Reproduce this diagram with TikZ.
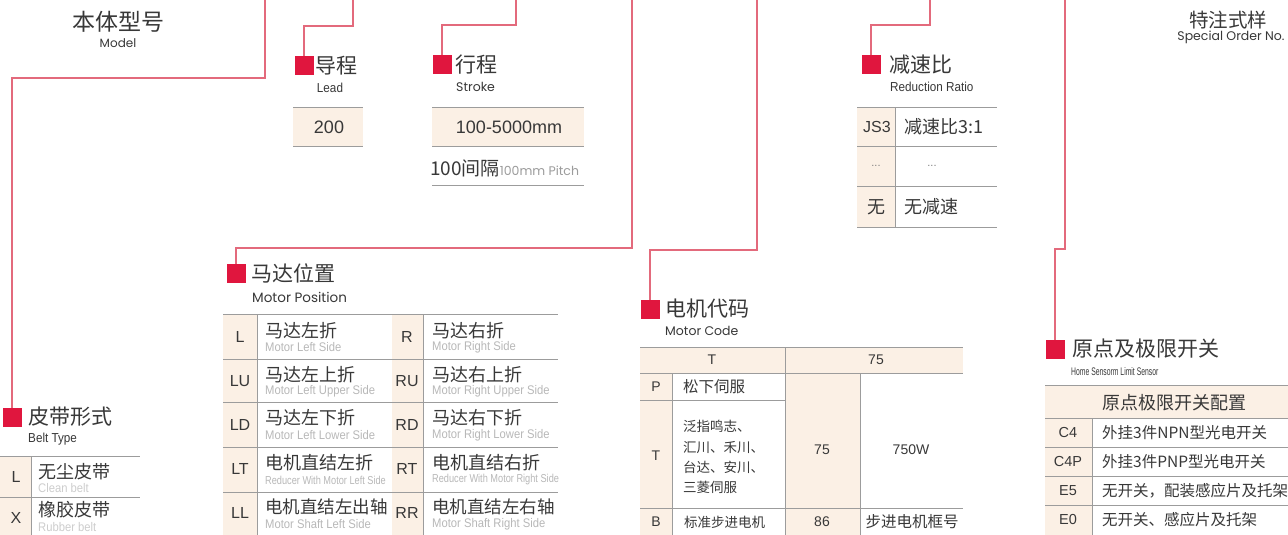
\documentclass[tikz,border=0pt]{standalone}
\usepackage{fontspec}
\setmainfont{Noto Sans CJK SC}
\newfontfamily\lat{Liberation Sans}
\newfontfamily\geo{Poppins}
\newfontfamily\cond[FakeStretch=0.8]{Liberation Sans}
\newfontfamily\semicond[FakeStretch=0.9]{Liberation Sans}
\newfontfamily\xcond[FakeStretch=0.62]{Liberation Sans}
\definecolor{lnred}{HTML}{E36A7C}
\definecolor{mkred}{HTML}{E0163E}
\definecolor{beige}{HTML}{FBF0E5}
\definecolor{gridc}{HTML}{9C9C9C}
\definecolor{txt}{HTML}{383838}
\definecolor{subg}{HTML}{B8B8B8}
\tikzset{
  conn/.style={draw=lnred, line width=1.2pt},
  marker/.style={fill=mkred, minimum size=19pt, inner sep=0pt, outer sep=0pt},
  title/.style={anchor=west, inner sep=0pt, text=txt, font=\fontsize{21}{21}\selectfont},
  geosub/.style={anchor=west, inner sep=0pt, text=txt, font=\geo\fontsize{12.5}{12.5}\selectfont},
  condsub/.style={anchor=west, inner sep=0pt, text=txt, font=\semicond\fontsize{13}{13}\selectfont},
  gl/.style={draw=gridc, line width=0.9pt},
  shade/.style={fill=beige},
  code/.style={inner sep=0pt, text=txt, font=\lat\fontsize{16}{16}\selectfont},
  cn/.style={anchor=west, inner sep=0pt, text=txt, font=\fontsize{18}{18}\selectfont},
  cnm/.style={anchor=west, inner sep=0pt, text=txt, font=\fontsize{15.5}{15.5}\selectfont},
  tiny/.style={anchor=west, inner sep=0pt, text=subg, font=\semicond\fontsize{12.5}{12.5}\selectfont}
}
\begin{document}
\begin{tikzpicture}[x=1pt,y=-1pt]
\useasboundingbox (0,0) rectangle (1288,535);
\clip (0,0) rectangle (1288,535);
\fill[white] (0,0) rectangle (1288,535);

% ---------- header texts ----------
\node[inner sep=0pt, text=txt, font=\fontsize{23}{23}\selectfont] (model) at (118,22) {本体型号};
\node[inner sep=0pt, text=txt, font=\geo\fontsize{12}{12}\selectfont] (models) at (118,43) {Model};
\node[inner sep=0pt, text=txt, font=\fontsize{19.5}{19.5}\selectfont] (spec) at (1228,20) {特注式样};
\node[inner sep=0pt, text=txt, font=\geo\fontsize{12.5}{12.5}\selectfont] (specs) at (1231,37) {Special Order No.};

% ---------- markers ----------
\node[marker] (mkbelt) at (12,417) {};
\node[marker] (mklead) at (304,66) {};
\node[marker] (mkstroke) at (442,65) {};
\node[marker] (mkpos) at (236,273) {};
\node[marker] (mkcode) at (650,309) {};
\node[marker] (mkred) at (871,65) {};
\node[marker] (mkhome) at (1055,349) {};

% ---------- connector tops ----------
\coordinate (tmodel) at (265,-2);
\coordinate (tlead) at (353,-2);
\coordinate (tstroke) at (516,-2);
\coordinate (tpos) at (632,-2);
\coordinate (tcode) at (757,-2);
\coordinate (tred) at (930,-2);
\coordinate (thome) at (1065,-2);

\draw[conn] (tmodel) -- ++(0,80) -| (mkbelt.north);
\draw[conn] (tlead) -- ++(0,28) -| (mklead.north);
\draw[conn] (tstroke) -- ++(0,27) -| (mkstroke.north);
\draw[conn] (tpos) -- ++(0,250) -| (mkpos.north);
\draw[conn] (tcode) -- ++(0,252) -| (mkcode.north);
\draw[conn] (tred) -- ++(0,27) -| (mkred.north);
\draw[conn] (thome) -- ++(0,251) -| (mkhome.north);

% ---------- titles ----------
\node[title] (tibelt) at (28,417) {皮带形式};
\node[condsub] (subbelt) at (28,439) {Belt Type};
\node[title] (tilead) at (315,66) {导程};
\node[condsub, anchor=center] (sublead) at (330,88) {Lead};
\node[title] (tistroke) at (455,65) {行程};
\node[geosub] (substroke) at (456,87) {Stroke};
\node[title] (tipos) at (251,273) {马达位置};
\node[geosub, font=\geo\fontsize{13.5}{13.5}\selectfont] (subpos) at (252,297) {Motor Position};
\node[title] (ticode) at (665,309) {电机代码};
\node[geosub] (subcode) at (665,331) {Motor Code};
\node[title] (tired) at (889,65) {减速比};
\node[condsub] (subred) at (890,87) {Reduction Ratio};
\node[title] (tihome) at (1072,349) {原点及极限开关};
\node[condsub, font=\xcond\fontsize{11}{11}\selectfont] (subhome) at (1071,372) {Home Sensorm Limit Sensor};

% ---------- lead table ----------
\fill[shade] (293,107) rectangle (363,146);
\draw[gl] (293,107) -- (363,107) (293,146) -- (363,146);
\node[code, font=\lat\fontsize{18}{18}\selectfont] (lead200) at (329,127) {200};

% ---------- stroke table ----------
\fill[shade] (432,107) rectangle (584,146);
\draw[gl] (432,107) -- (584,107) (432,146) -- (584,146) (432,185) -- (584,185);
\node[code, font=\lat\fontsize{18}{18}\selectfont] (strokev) at (509,127) {100-5000mm};
\node[anchor=west, inner sep=0pt, text=txt, font=\fontsize{19}{19}\selectfont] (pitch) at (430,168) {100间隔{\color{subg!85!black}\geo\fontsize{12.5}{12.5}\selectfont 100mm Pitch}};

% ---------- reduction table ----------
\fill[shade] (857,107) rectangle (895,227);
\draw[gl] (857,107) -- (997,107) (857,146) -- (997,146) (857,186) -- (997,186) (857,227) -- (997,227);
\draw[gl] (895,107) -- (895,227);
\node[code] (rjs) at (877,127) {JS3};
\node[cn] (rjsd) at (904,127) {减速比3:1};
\node[code, text=gray] (rdot) at (876,166) {\fontsize{11}{11}\selectfont ...};
\node[code, text=gray] (rdotd) at (932,166) {\fontsize{11}{11}\selectfont ...};
\node[code, font=\fontsize{18}{18}\selectfont] (rno) at (876,207) {无};
\node[cn] (rnod) at (904,207) {无减速};

% ---------- belt table ----------
\fill[shade] (0,456) rectangle (31,540);
\draw[gl] (0,456) -- (140,456) (0,497) -- (140,497);
\draw[gl] (31,456) -- (31,540);
\node[code] (bL) at (16,477) {L};
\node[cn] (bLd) at (38,472) {无尘皮带};
\node[tiny, text=subg!70] (bLs) at (38,488) {Clean belt};
\node[code] (bX) at (16,518) {X};
\node[cn] (bXd) at (38,510) {橡胶皮带};
\node[tiny, text=subg!70] (bXs) at (38,527) {Rubber belt};

% ---------- motor position table ----------
\fill[shade] (223,314) rectangle (257,540);
\fill[shade] (392,314) rectangle (423,540);
\draw[gl] (223,314) -- (558,314) (223,359) -- (558,359) (223,402) -- (558,402) (223,447) -- (558,447) (223,492) -- (558,492);
\draw[gl] (257,314) -- (257,540) (423,314) -- (423,540);
\node[code] (pL) at (240,337) {L};
\node[code] (pLU) at (240,381) {LU};
\node[code] (pLD) at (240,425) {LD};
\node[code] (pLT) at (240,469) {LT};
\node[code] (pLL) at (240,513) {LL};
\node[code] (pR) at (407,337) {R};
\node[code] (pRU) at (407,381) {RU};
\node[code] (pRD) at (407,425) {RD};
\node[code] (pRT) at (407,469) {RT};
\node[code] (pRR) at (407,513) {RR};
\node[cn] (pLa) at (265,331) {马达左折};
\node[tiny] (pLb) at (265,347) {Motor Left Side};
\node[cn] (pLUa) at (265,375) {马达左上折};
\node[tiny] (pLUb) at (265,391) {Motor Left Upper Side};
\node[cn] (pLDa) at (265,418) {马达左下折};
\node[tiny] (pLDb) at (265,435) {Motor Left Lower Side};
\node[cn] (pLTa) at (265,463) {电机直结左折};
\node[tiny, font=\cond\fontsize{11.5}{11.5}\selectfont] (pLTb) at (265,480) {Reducer With Motor Left Side};
\node[cn, font=\fontsize{17.5}{17.5}\selectfont] (pLLa) at (265,507) {电机直结左出轴};
\node[tiny] (pLLb) at (265,524) {Motor Shaft Left Side};
\node[cn] (pRa) at (432,331) {马达右折};
\node[tiny] (pRb) at (432,347) {Motor Right Side};
\node[cn] (pRUa) at (432,375) {马达右上折};
\node[tiny] (pRUb) at (432,391) {Motor Right Upper Side};
\node[cn] (pRDa) at (432,418) {马达右下折};
\node[tiny] (pRDb) at (432,435) {Motor Right Lower Side};
\node[cn] (pRTa) at (432,463) {电机直结右折};
\node[tiny, font=\cond\fontsize{11.5}{11.5}\selectfont] (pRTb) at (432,480) {Reducer With Motor Right Side};
\node[cn, font=\fontsize{17.5}{17.5}\selectfont] (pRRa) at (432,507) {电机直结左右轴};
\node[tiny] (pRRb) at (432,524) {Motor Shaft Right Side};

% ---------- motor code table ----------
\fill[shade] (640,347) rectangle (963,373);
\fill[shade] (640,373) rectangle (672,540);
\fill[shade] (785,373) rectangle (860,540);
\draw[gl] (640,347) -- (963,347) (640,373) -- (963,373) (640,400) -- (785,400) (640,508) -- (963,508);
\draw[gl] (672,373) -- (672,540) (785,347) -- (785,540) (860,373) -- (860,540);
\node[code, font=\lat\fontsize{14}{14}\selectfont] (cT) at (712,360) {T};
\node[code, font=\lat\fontsize{14}{14}\selectfont] (c75h) at (876,360) {75};
\node[code, font=\lat\fontsize{14}{14}\selectfont] (cP) at (656,387) {P};
\node[cnm] (cPd) at (683,387) {松下伺服};
\node[code, font=\lat\fontsize{14}{14}\selectfont] (cT2) at (656,456) {T};
\node[cnm, align=left, font=\fontsize{13.5}{20.3}\selectfont] (cTd) at (683,457) {泛指鸣志、\\汇川、禾川、\\台达、安川、\\三菱伺服};
\node[code, font=\lat\fontsize{14}{14}\selectfont] (c75) at (822,450) {75};
\node[code, font=\lat\fontsize{14}{14}\selectfont] (c750) at (911,450) {750W};
\node[code, font=\lat\fontsize{14}{14}\selectfont] (cB) at (656,522) {B};
\node[cnm, font=\fontsize{13.5}{13.5}\selectfont] (cBd) at (684,522) {标准步进电机};
\node[code, font=\lat\fontsize{14}{14}\selectfont] (c86) at (822,522) {86};
\node[cnm, anchor=center] (cBf) at (912,522) {步进电机框号};

% ---------- home sensor table ----------
\fill[shade] (1045,385) rectangle (1290,418);
\fill[shade] (1045,418) rectangle (1092,540);
\draw[gl] (1045,385) -- (1290,385) (1045,418) -- (1290,418) (1045,447) -- (1290,447) (1045,476) -- (1290,476) (1045,505) -- (1290,505);
\draw[gl] (1092,418) -- (1092,540);
\node[inner sep=0pt, text=txt, font=\fontsize{18}{18}\selectfont] (hhead) at (1174,403) {原点极限开关配置};
\node[code, font=\lat\fontsize{14.5}{14.5}\selectfont] (hC4) at (1068,433) {C4};
\node[cnm] (hC4d) at (1102,433) {外挂3件NPN型光电开关};
\node[code, font=\lat\fontsize{14.5}{14.5}\selectfont] (hC4P) at (1068,462) {C4P};
\node[cnm] (hC4Pd) at (1102,462) {外挂3件PNP型光电开关};
\node[code, font=\lat\fontsize{14.5}{14.5}\selectfont] (hE5) at (1068,491) {E5};
\node[cnm] (hE5d) at (1102,491) {无开关，配装感应片及托架};
\node[code, font=\lat\fontsize{14.5}{14.5}\selectfont] (hE0) at (1068,520) {E0};
\node[cnm] (hE0d) at (1102,520) {无开关、感应片及托架};
\end{tikzpicture}
\end{document}
